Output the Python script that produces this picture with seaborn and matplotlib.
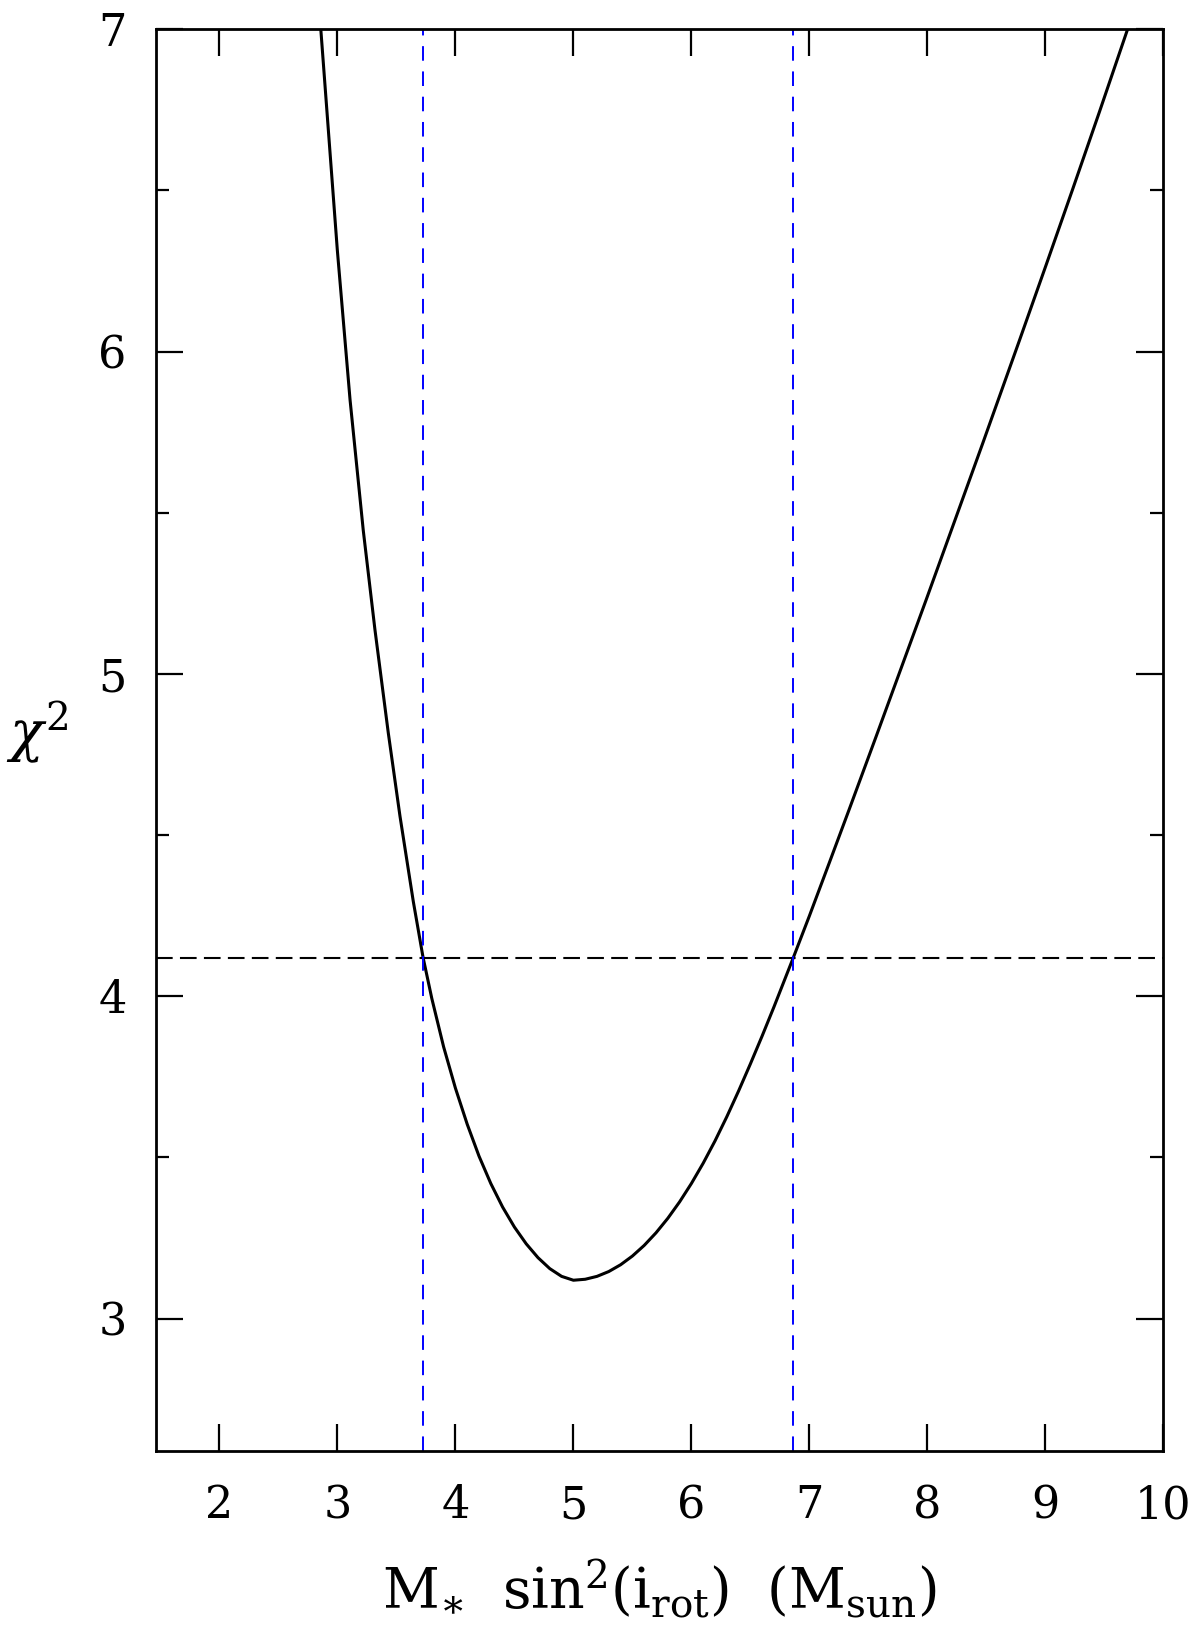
import numpy as np
import pandas as pd
import matplotlib as mpl
mpl.use("Agg")
import matplotlib.pyplot as plt
import seaborn as sns

# chi^2 curve (M sin^2 i, chi^2)
mass = [2.859, 2.999, 3.107, 3.219, 3.318, 3.431, 3.530, 3.643, 3.725, 3.800,
        3.900, 4.000, 4.100, 4.200, 4.300, 4.400, 4.500, 4.600, 4.700, 4.800,
        4.900, 5.000, 5.100, 5.200, 5.300, 5.400, 5.500, 5.600, 5.700, 5.800,
        5.900, 6.000, 6.100, 6.200, 6.300, 6.400, 6.500, 6.600, 6.700, 6.861,
        7.000, 7.170, 7.340, 7.567, 7.764, 7.990, 8.244, 8.469, 8.780, 9.006,
        9.231, 9.457, 9.700]
chi2 = [7.000, 6.315, 5.850, 5.445, 5.137, 4.817, 4.559, 4.294, 4.122, 3.993,
        3.843, 3.715, 3.603, 3.504, 3.419, 3.346, 3.284, 3.232, 3.189, 3.155,
        3.131, 3.119, 3.122, 3.131, 3.146, 3.167, 3.194, 3.227, 3.266, 3.311,
        3.362, 3.419, 3.482, 3.551, 3.626, 3.706, 3.790, 3.877, 3.967, 4.117,
        4.249, 4.415, 4.582, 4.807, 5.004, 5.230, 5.487, 5.715, 6.034, 6.268,
        6.503, 6.742, 7.003]

chi2_level = 4.12             # chi2_min + 1
mass_bounds = [3.725, 6.861]  # interval where chi2 < chi2_min + 1

x_ticks = [2, 3, 4, 5, 6, 7, 8, 9, 10]
y_ticks = [3, 4, 5, 6, 7]

df = pd.DataFrame({"mass": mass, "chi2": chi2})

sns.set_theme(style="ticks")
plt.rcParams["font.family"] = ["DejaVu Serif"]
plt.rcParams["mathtext.fontset"] = "dejavuserif"

fig = plt.figure(figsize=(12, 16.48), dpi=100)
ax = fig.add_axes([0.1298, 0.1197, 0.8396, 0.8625])

sns.lineplot(data=df, x="mass", y="chi2", sort=False, estimator=None,
             color="black", lw=2.2, ax=ax)

ax.axhline(chi2_level, color="black", lw=1.5, dashes=(8, 3.5))
for m in mass_bounds:
    ax.axvline(m, color="#0000ff", lw=1.4, dashes=(7.5, 5.5))

ax.set_xlim(1.46, 10)
ax.set_ylim(2.59, 7)
ax.set_xticks(x_ticks)
ax.set_yticks(y_ticks)
ax.yaxis.set_minor_locator(mpl.ticker.MultipleLocator(0.5))

for s in ax.spines.values():
    s.set_linewidth(2.0)
    s.set_color("black")

ax.tick_params(which="both", direction="in", top=True, right=True,
               width=1.6, color="black", labelsize=32, labelcolor="black")
ax.tick_params(which="major", length=19.5)
ax.tick_params(which="minor", length=9.5)
ax.tick_params(axis="x", which="major", pad=24)
ax.tick_params(axis="y", which="major", pad=21)

ax.set_xlabel(r"$\mathregular{M_{\ast}\ \ sin^{2}(i_{rot})\ \ (M_{sun})}$",
              fontsize=40, color="black", labelpad=22)
ax.set_ylabel(r"$\chi^{2}$", fontsize=40, rotation=0, color="black",
              ha="center", va="center")
ax.yaxis.set_label_coords(-0.118, 0.505)

fig.savefig("out.png", dpi=100, facecolor="white")
